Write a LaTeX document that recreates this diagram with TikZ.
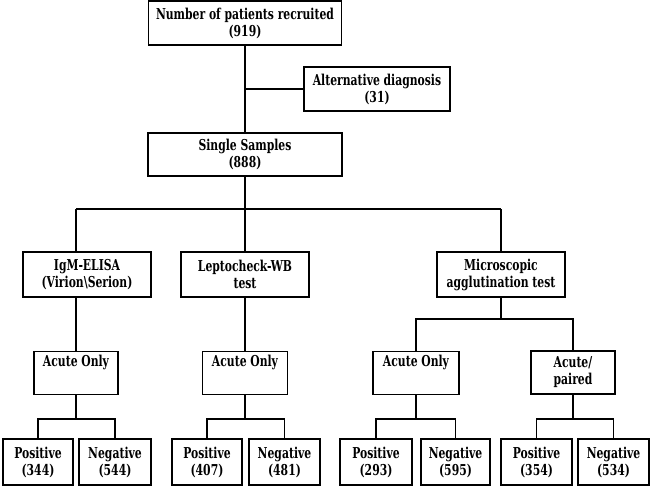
\documentclass[tikz,border=0pt]{standalone}
\usepackage{fontspec}
\setmainfont{DejaVu Serif Condensed}[FakeStretch=0.8]
\begin{document}
\begin{tikzpicture}[x=1pt,y=-1pt,
  box/.style={draw, line width=1.2pt, align=center, inner sep=0pt,
    font=\fontsize{15}{17}\selectfont\bfseries},
  conn/.style={line width=1.2pt}]
\useasboundingbox (0,0) rectangle (651,486);
% level 0-2
\node[box, minimum width=193pt, minimum height=44pt] (top) at (245,23) {Number of patients recruited\\(919)};
\node[box, minimum width=146pt, minimum height=44pt] (alt) at (377,89) {Alternative diagnosis\\(31)};
\node[box, minimum width=194pt, minimum height=43pt] (single) at (245,154.5) {Single Samples\\(888)};
% tests
\node[box, minimum width=128pt, minimum height=45pt] (igm) at (87,274.5) {IgM-ELISA\\(Virion\textbackslash Serion)};
\node[box, minimum width=128pt, minimum height=45pt] (lepto) at (245,274.5) {Leptocheck-WB\\test};
\node[box, minimum width=128pt, minimum height=45pt] (mat) at (501,274.5) {Microscopic\\agglutination test};
% acute
\node[box, minimum width=84pt, minimum height=43pt, anchor=north] (a1) at (76,351) {Acute Only\\[8pt]};
\node[box, minimum width=85pt, minimum height=43pt, anchor=north] (a2) at (245,351) {Acute Only\\[8pt]};
\node[box, minimum width=86pt, minimum height=43pt, anchor=north] (a3) at (416,351) {Acute Only\\[8pt]};
\node[box, minimum width=84pt, minimum height=43pt] (a4) at (573,372.5) {Acute/\\paired};
% results
\node[box, minimum width=70pt, minimum height=46pt] (p1) at (38,462) {Positive\\(344)};
\node[box, minimum width=72pt, minimum height=46pt] (n1) at (115,462) {Negative\\(544)};
\node[box, minimum width=70pt, minimum height=46pt] (p2) at (207,462) {Positive\\(407)};
\node[box, minimum width=71pt, minimum height=46pt] (n2) at (284.5,462) {Negative\\(481)};
\node[box, minimum width=72pt, minimum height=46pt] (p3) at (376,462) {Positive\\(293)};
\node[box, minimum width=69pt, minimum height=46pt] (n3) at (455.5,462) {Negative\\(595)};
\node[box, minimum width=71pt, minimum height=46pt] (p4) at (536.5,462) {Positive\\(354)};
\node[box, minimum width=71pt, minimum height=46pt] (n4) at (613.5,462) {Negative\\(534)};
% connectors
\coordinate (bar) at (245,209);
\coordinate (b1) at (76,209);
\coordinate (b3) at (501,209);
\coordinate (mj) at (501,319);
\coordinate (lv) at (0,419);
\draw[conn] (top.south) -- (single.north);
\draw[conn] (top.south |- alt.west) -- (alt.west);
\draw[conn] (single.south) -- (bar);
\draw[conn] (b1) -- (b3);
\draw[conn] (b1) -- (b1 |- igm.north);
\draw[conn] (bar) -- (lepto.north);
\draw[conn] (b3) -- (mat.north);
\draw[conn] (b1 |- igm.south) -- (a1.north);
\draw[conn] (lepto.south) -- (a2.north);
\draw[conn] (mat.south) -- (mj);
\draw[conn] (a3.north) -- (a3.north |- mj) -- (a4.north |- mj) -- (a4.north);
\foreach \a/\p/\n in {a1/p1/n1, a2/p2/n2, a3/p3/n3, a4/p4/n4}{
  \draw[conn] (\a.south) -- (\a.south |- lv);
  \draw[conn] (\p.north) -- (\p.north |- lv) -- (\n.north |- lv) -- (\n.north);
}
\end{tikzpicture}
\end{document}
